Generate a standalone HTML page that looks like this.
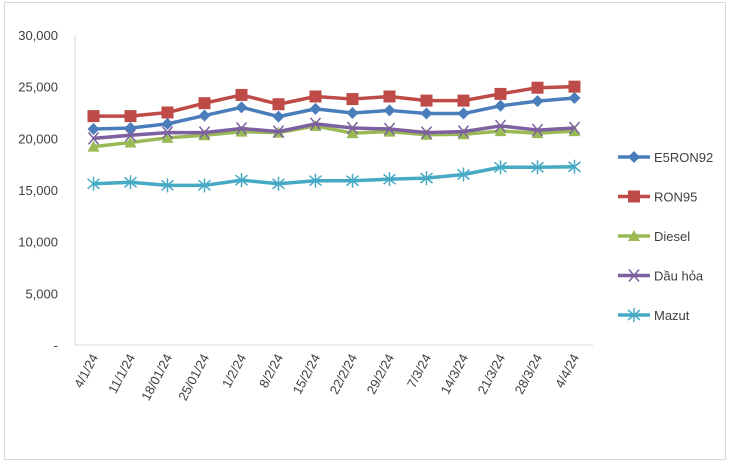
<!DOCTYPE html>
<html><head><meta charset="utf-8"><style>
body{margin:0;background:#fff;}
svg{display:block;font-family:"Liberation Sans",sans-serif;}
</style></head><body>
<svg id="chart" width="732" height="469">
<rect x="4.5" y="2.5" width="721" height="457" fill="#fff" stroke="#d9d9d9"/>
<g id="axes"></g><g id="series"></g><g id="legend"></g>
</svg>
<script>
const categories=["4/1/24","11/1/24","18/01/24","25/01/24","1/2/24","8/2/24","15/2/24","22/2/24","29/2/24","7/3/24","14/3/24","21/3/24","28/3/24","4/4/24"];
const e5ron92=[20900,21000,21400,22200,23000,22100,22850,22450,22700,22400,22400,23150,23600,23900];
const ron95=[22150,22150,22500,23400,24200,23300,24050,23800,24050,23650,23650,24300,24900,25000];
const diesel=[19200,19600,20050,20300,20650,20550,21200,20500,20650,20350,20400,20700,20500,20700];
const dauHoa=[20000,20300,20550,20550,20950,20650,21400,21000,20900,20550,20650,21200,20800,21000];
const mazut=[15600,15750,15450,15450,15950,15600,15900,15900,16050,16150,16500,17200,17200,17250];
const yTicks=[0,5000,10000,15000,20000,25000,30000];
const yTickLabels=["-","5,000","10,000","15,000","20,000","25,000","30,000"];
const seriesNames=["E5RON92","RON95","Diesel","Dầu hỏa","Mazut"];

const NS="http://www.w3.org/2000/svg";
const X0=75,X1=593,Y0=345,Y1=35;
const step=(X1-X0)/categories.length;
const xs=i=>X0+step*(i+0.5);
const ys=v=>Y0-(v/30000)*(Y0-Y1);
function mk(tag,attrs,parent){const e=document.createElementNS(NS,tag);for(const k in attrs)e.setAttribute(k,attrs[k]);parent.appendChild(e);return e;}
const axes=document.getElementById('axes'),sg=document.getElementById('series'),lg=document.getElementById('legend');

let yl=mk('line',{x1:X0,y1:Y1,x2:X0,y2:Y0,stroke:'#d9d9d9'},axes);


let xl=mk('line',{x1:X0,y1:Y0,x2:X1,y2:Y0,stroke:'#d9d9d9'},axes);


yTicks.forEach((v,i)=>{
  const t=mk('text',{x:58,y:ys(v)+5,'text-anchor':'end','font-size':13,fill:'#404040'},axes);
  t.textContent=yTickLabels[i];
  
  
});
categories.forEach((c,i)=>{
  const x=xs(i)+5,y=Y0+12;
  const t=mk('text',{x:x,y:y,'text-anchor':'end','font-size':13,fill:'#404040',transform:`rotate(-62 ${x} ${y})`},axes);
  t.textContent=c;
  
  
});

function marker(type,x,y,color,g){
  if(type==='diamond')return mk('polygon',{points:`${x},${y-6} ${x+6},${y} ${x},${y+6} ${x-6},${y}`,fill:color},g);
  if(type==='square')return mk('rect',{x:x-6,y:y-6,width:12,height:12,fill:color},g);
  if(type==='triangle')return mk('polygon',{points:`${x},${y-6} ${x+6},${y+5} ${x-6},${y+5}`,fill:color},g);
  if(type==='x')return mk('path',{d:`M${x-5},${y-6}L${x+5},${y+6}M${x+5},${y-6}L${x-5},${y+6}`,stroke:color,'stroke-width':1.5},g);
  return mk('path',{d:`M${x-6},${y-5}L${x+6},${y+5}M${x+6},${y-5}L${x-6},${y+5}M${x},${y-7}L${x},${y+7}`,stroke:color,'stroke-width':1.5},g);
}
const defs=[[e5ron92,'#4a7ebb','diamond','e5ron92'],[ron95,'#be4b48','square','ron95'],[diesel,'#98b954','triangle','diesel'],[dauHoa,'#7d60a0','x','dau-hoa'],[mazut,'#46aac5','star','mazut']];
const order=[4,2,3,0,1];
order.forEach(si=>{
  const [vals,color,mt,nm]=defs[si];
  const g=mk('g',{},sg);
  
  
  const p=mk('polyline',{points:vals.map((v,i)=>xs(i)+','+ys(v)).join(' '),fill:'none',stroke:color,'stroke-width':3.5,'stroke-linejoin':'round'},g);
  
  
  vals.forEach((v,i)=>{
    const m=marker(mt,xs(i),ys(v),color,g);
    
    
  });
});
defs.forEach((d,i)=>{
  const y=157+i*39.5;
  const g=mk('g',{},lg);
  
  
  mk('line',{x1:618,y1:y,x2:650,y2:y,stroke:d[1],'stroke-width':3.5},g);
  marker(d[2],634,y,d[1],g);
  const t=mk('text',{x:654,y:y+5,'font-size':13,fill:'#404040'},g);
  t.textContent=seriesNames[i];
});
</script>
</body></html>
